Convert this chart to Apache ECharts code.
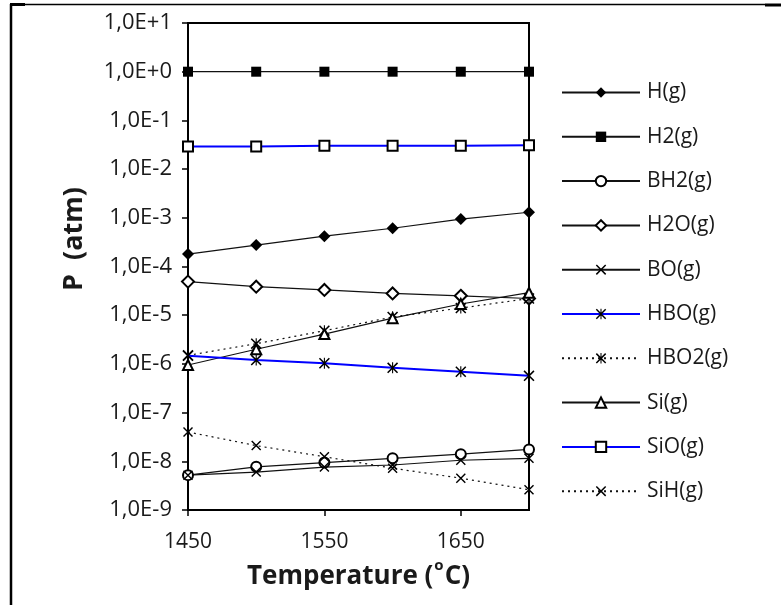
<!DOCTYPE html>
<html>
<head>
<meta charset="utf-8">
<script src="https://cdn.jsdelivr.net/npm/echarts@6/dist/echarts.min.js"></script>
<style>
  html, body { margin: 0; padding: 0; background: #fff; }
  #chart { width: 781px; height: 605px; }
</style>
</head>
<body>
<div id="chart"></div>
<script>
// Temperature (°C)
const temps = [1450, 1500, 1550, 1600, 1650, 1700];
const xTickLabels = [1450, 1550, 1650];

// Partial pressures (atm)
const hG    = [1.8e-4, 2.75e-4, 4.2e-4, 6.1e-4, 9.4e-4, 1.3e-3];
const h2G   = [1.0, 1.0, 1.0, 1.0, 1.0, 1.0];
const bh2G  = [5.2e-9, 7.7e-9, 9.4e-9, 1.15e-8, 1.4e-8, 1.75e-8];
const h2oG  = [4.9e-5, 3.85e-5, 3.3e-5, 2.8e-5, 2.5e-5, 2.2e-5];
const boG   = [5.2e-9, 6.0e-9, 7.6e-9, 8.4e-9, 1.05e-8, 1.15e-8];
const hboG  = [1.47e-6, 1.2e-6, 1.03e-6, 8.3e-7, 6.9e-7, 5.7e-7];
const hbo2G = [1.5e-6, 2.6e-6, 4.8e-6, 9.2e-6, 1.4e-5, 2.2e-5];
const siG   = [9.5e-7, 2.0e-6, 4.1e-6, 8.7e-6, 1.7e-5, 2.9e-5];
const sioG  = [0.029, 0.029, 0.030, 0.030, 0.030, 0.031];
const sihG  = [4.0e-8, 2.1e-8, 1.24e-8, 7.2e-9, 4.5e-9, 2.6e-9];

const FONT = '"Open Sans", "Noto Sans", sans-serif';
const INK = '#1a1a1a';

// Marker outlines built from filled strokes
const X_MARK = 'path://M0,1 L1,0 L10,9 L9,10 Z M9,0 L10,1 L1,10 L0,9 Z';
const STAR_MARK = 'path://M0,1 L1,0 L10,9 L9,10 Z M9,0 L10,1 L1,10 L0,9 Z M4.5,0 L5.5,0 L5.5,10 L4.5,10 Z';

function pairs(vals) {
  return temps.map((t, i) => [t, vals[i]]);
}

function makeSeries(name, vals, opt) {
  return {
    name: name,
    type: 'line',
    data: pairs(vals),
    symbol: opt.symbol,
    symbolSize: opt.size || 10,
    showAllSymbol: true,
    animation: false,
    lineStyle: {
      color: opt.lineColor || '#111',
      width: opt.lineWidth || 1.2,
      type: opt.dash || 'solid'
    },
    itemStyle: {
      color: '#000',
      borderColor: '#000',
      borderWidth: opt.border || 0
    },
    emphasis: { disabled: true },
    z: opt.z || 2
  };
}

const series = [
  makeSeries('H(g)',    hG,    { symbol: 'diamond', size: 12 }),
  makeSeries('H2(g)',   h2G,   { symbol: 'rect', size: 10 }),
  makeSeries('BH2(g)',  bh2G,  { symbol: 'emptyCircle', size: 10, border: 1.2 }),
  makeSeries('H2O(g)',  h2oG,  { symbol: 'emptyDiamond', size: 12, border: 1.2 }),
  makeSeries('BO(g)',   boG,   { symbol: X_MARK, size: 10 }),
  makeSeries('HBO(g)',  hboG,  { symbol: STAR_MARK, size: 11, lineColor: '#0000ff', lineWidth: 2, z: 4 }),
  makeSeries('HBO2(g)', hbo2G, { symbol: STAR_MARK, size: 11, dash: [2, 4] }),
  makeSeries('Si(g)',   siG,   { symbol: 'emptyTriangle', size: 10, border: 1.2 }),
  makeSeries('SiO(g)',  sioG,  { symbol: 'emptyRect', size: 10, border: 1.2, lineColor: '#0000ff', lineWidth: 2, z: 4 }),
  makeSeries('SiH(g)',  sihG,  { symbol: X_MARK, size: 10, dash: [2, 4] })
];

const chart = echarts.init(document.getElementById('chart'), null, { renderer: 'canvas' });

chart.setOption({
  backgroundColor: '#fff',
  animation: false,
  grid: {
    left: 188, top: 23, right: 252, bottom: 95,
    show: true, borderColor: '#000', borderWidth: 2
  },
  xAxis: {
    type: 'value',
    min: 1450, max: 1700, interval: 50,
    name: '{main|Temperature (}{sup|o}{main|C)}',
    nameLocation: 'middle',
    nameGap: 45,
    nameTextStyle: {
      fontFamily: FONT, fontSize: 26, fontWeight: 'bold', color: INK,
      rich: {
        main: { fontFamily: FONT, fontSize: 26, fontWeight: 'bold', color: INK, lineHeight: 32, verticalAlign: 'bottom' },
        sup: { fontFamily: FONT, fontSize: 15, fontWeight: 'bold', color: INK, lineHeight: 18, verticalAlign: 'top', padding: [0, 1, 0, 1] }
      }
    },
    axisLine: { lineStyle: { color: '#000', width: 2 } },
    axisTick: { show: true, inside: false, length: 6, lineStyle: { color: '#000', width: 1.5 }, customValues: xTickLabels },
    axisLabel: {
      fontFamily: FONT, fontSize: 21, color: INK, margin: 22, customValues: xTickLabels,
      formatter: function (v) { return String(v); }
    },
    splitLine: { show: false }
  },
  yAxis: {
    type: 'log',
    logBase: 10,
    min: 1e-9, max: 10,
    axisLine: { show: true, lineStyle: { color: '#000', width: 2 } },
    axisTick: { show: true, inside: false, length: 6, lineStyle: { color: '#000', width: 1.5 } },
    axisLabel: {
      fontFamily: FONT, fontSize: 22, color: INK, margin: 16,
      formatter: function (v) {
        const e = Math.round(Math.log10(v));
        return '1,0E' + (e >= 0 ? '+' + e : String(e));
      }
    },
    minorTick: { show: false },
    splitLine: { show: false }
  },
  legend: {
    orient: 'vertical',
    left: 561, top: 82,
    padding: 0,
    itemWidth: 78, itemHeight: 13,
    itemGap: 23.3,
    selectedMode: false,
    textStyle: { fontFamily: FONT, fontSize: 21, color: INK, padding: [0, 0, 0, 2] },
    data: series.map(s => s.name)
  },
  graphic: [
    {
      type: 'text',
      x: 74, y: 239,
      rotation: Math.PI / 2,
      style: {
        text: 'P  (atm)',
        fontFamily: FONT, fontSize: 27, fontWeight: 'bold', fill: INK,
        align: 'center', verticalAlign: 'middle'
      }
    },
    { type: 'line', shape: { x1: 11, y1: 4, x2: 11, y2: 605 }, style: { stroke: '#000', lineWidth: 2.5 } },
    { type: 'line', shape: { x1: 10, y1: 4.5, x2: 765, y2: 4.5 }, style: { stroke: '#000', lineWidth: 1.5 } },
    { type: 'line', shape: { x1: 10, y1: 4.5, x2: 25, y2: 4.5 }, style: { stroke: '#000', lineWidth: 3 } },
    { type: 'line', shape: { x1: 765, y1: 5, x2: 781, y2: 5 }, style: { stroke: '#000', lineWidth: 3 } }
  ],
  series: series
});
</script>
</body>
</html>
